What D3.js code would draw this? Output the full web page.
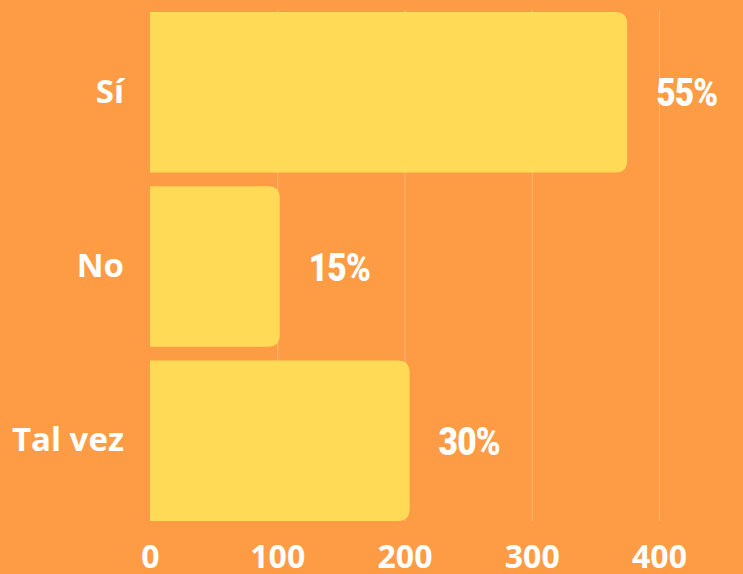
<!DOCTYPE html>
<html>
<head>
<meta charset="utf-8">
<script src="https://cdn.jsdelivr.net/npm/d3@7"></script>
<style>
  html, body { margin: 0; padding: 0; background: #fe9c45; }
  svg { display: block; }
</style>
</head>
<body>
<div class="chart"></div>
<script>
const categories = ['Sí', 'No', 'Tal vez']
const counts = [375, 102, 204]
const shares = ['55%', '15%', '30%']
const ticks = [0, 100, 200, 300, 400]

const width = 743, height = 574

const svg = d3.select('.chart')
  .append('svg')
    .attr('width', width)
    .attr('height', height)

svg.append('rect')
  .attr('width', width)
  .attr('height', height)
  .attr('fill', '#fe9c45')

const x = d3.scaleLinear().domain([0, 400]).range([150, 659])
const y = d3.scaleBand().domain(categories).range([12, 521]).paddingInner(0.078)

// grid
svg.append('g')
  .selectAll('line')
  .data(ticks.slice(1))
  .enter()
  .append('line')
    .attr('x1', (d) => x(d) + 0.5)
    .attr('x2', (d) => x(d) + 0.5)
    .attr('y1', 10)
    .attr('y2', 521)
    .attr('stroke', '#ffffff')
    .attr('stroke-opacity', 0.28)

// bars, rounded on the right only
const r = 12
const barPath = (d, i) => {
  const x0 = x(0), x1 = x(counts[i]), y0 = y(d), h = y.bandwidth()
  return `M${x0},${y0}H${x1 - r}Q${x1},${y0} ${x1},${y0 + r}` +
    `V${y0 + h - r}Q${x1},${y0 + h} ${x1 - r},${y0 + h}H${x0}Z`
}

svg.append('g')
  .selectAll('path')
  .data(categories)
  .enter()
  .append('path')
    .attr('d', barPath)
    .attr('fill', '#ffda57')

// percent labels (condensed look by squeezing a bold face)
svg.append('g')
  .selectAll('text')
  .data(categories)
  .enter()
  .append('text')
    .attr('transform', (d, i) =>
      `translate(${x(counts[i]) + 29},${y(d) + y.bandwidth() / 2}) scale(0.86,1)`)
    .attr('dy', '0.36em')
    .attr('fill', '#ffffff')
    .style('font-family', 'Roboto, sans-serif')
    .style('font-weight', 900)
    .style('font-size', '39px')
    .style('letter-spacing', '-1px')
    .text((d, i) => shares[i])

// y axis labels
const yAxis = d3.axisLeft(y).tickSize(0).tickPadding(26)
svg.append('g')
  .attr('transform', `translate(${x(0)},0)`)
  .call(yAxis)
  .call((g) => g.select('.domain').remove())
  .selectAll('text')
    .attr('fill', '#ffffff')
    .style('font-family', '"Open Sans", sans-serif')
    .style('font-weight', 700)
    .style('font-size', '33px')

// x axis labels (cut by the bottom edge, as in the source)
const xAxis = d3.axisBottom(x).tickValues(ticks).tickSize(0).tickPadding(0)
svg.append('g')
  .attr('transform', 'translate(0,545)')
  .call(xAxis)
  .call((g) => g.select('.domain').remove())
  .selectAll('text')
    .attr('fill', '#ffffff')
    .style('font-family', '"Open Sans", sans-serif')
    .style('font-weight', 700)
    .style('font-size', '32px')
</script>
</body>
</html>
